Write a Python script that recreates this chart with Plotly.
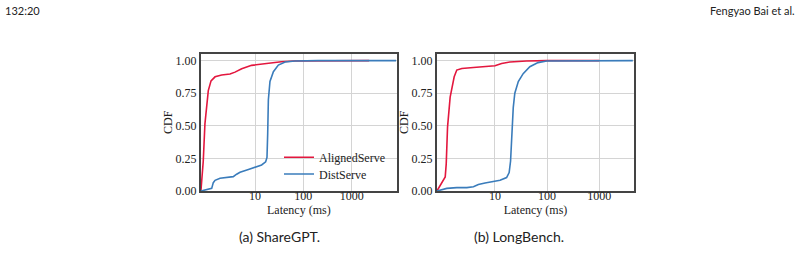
import plotly.graph_objects as go
import math

# ---- data ----
share_aligned_x = [0.76, 0.85, 0.92, 1.0, 1.08, 1.23, 1.49, 2.04, 3.04, 3.86, 5.3, 8.5, 16, 35, 67, 200, 2300]
share_aligned_y = [0, 0.23, 0.515, 0.67, 0.77, 0.845, 0.876, 0.89, 0.897, 0.912, 0.938, 0.964, 0.979, 0.992, 0.997, 0.999, 1.0]
share_dist_x = [0.76, 1.08, 1.27, 1.37, 1.49, 1.89, 2.8, 3.55, 4.17, 4.9, 7.3, 10, 13.7, 16.6, 17.7, 18.3, 18.9, 20.4, 24, 30.4, 42, 67, 200, 8300]
share_dist_y = [0, 0.01, 0.02, 0.064, 0.082, 0.098, 0.108, 0.11, 0.129, 0.144, 0.165, 0.18, 0.2, 0.224, 0.258, 0.44, 0.70, 0.84, 0.915, 0.966, 0.99, 0.998, 1.0, 1.0]
long_aligned_x = [0.77, 0.89, 1.0, 1.11, 1.16, 1.23, 1.38, 1.49, 1.65, 1.85, 2.31, 3.86, 6.45, 10, 13.4, 19.4, 40, 98, 1000]
long_aligned_y = [0, 0.04, 0.077, 0.108, 0.206, 0.49, 0.72, 0.786, 0.876, 0.928, 0.94, 0.948, 0.954, 0.961, 0.979, 0.99, 0.997, 1.0, 1.0]
long_dist_x = [0.77, 1.03, 1.19, 1.85, 2.88, 3.86, 4.8, 6.45, 9.3, 12.5, 16.7, 18.7, 19.9, 20.8, 22.4, 24, 28, 34.7, 46.6, 67, 98, 4400]
long_dist_y = [0, 0.013, 0.02, 0.026, 0.026, 0.033, 0.05, 0.062, 0.07, 0.082, 0.103, 0.142, 0.23, 0.44, 0.64, 0.75, 0.84, 0.90, 0.954, 0.985, 0.997, 1.0]

x_tickvals = [10, 100, 1000]
x_ticktext = ["10", "100", "1000"]
y_tickvals = [0, 0.25, 0.5, 0.75, 1.0]
series_names = ["AlignedServe", "DistServe"]
subcaptions = ["(a) ShareGPT.", "(b) LongBench."]
header_left = "132:20"
header_right = "Fengyao Bai et al."

RED = "#e3173e"
BLUE = "#3a7cbb"
W, H = 800, 256
SERIF = "Liberation Serif"
SANS = "Lato"

fig = go.Figure()

def add(x, y, color, name, xa, ya, show, legend="legend"):
    fig.add_trace(go.Scatter(x=x, y=y, mode="lines", name=name,
                             line=dict(color=color, width=1.6),
                             xaxis=xa, yaxis=ya, showlegend=show, legend=legend))

add(share_aligned_x, share_aligned_y, RED, series_names[0], "x", "y", True, "legend")
add(share_dist_x, share_dist_y, BLUE, series_names[1], "x", "y", True, "legend2")
add(long_aligned_x, long_aligned_y, RED, series_names[0], "x2", "y2", False)
add(long_dist_x, long_dist_y, BLUE, series_names[1], "x2", "y2", False)

def px_x(p):
    return p / W

def px_y(p):
    return (H - p) / H

ybot = 191.0
ytop = 53.5
yr = [0, 1.055]

axis_font = dict(family=SERIF, size=12, color="#222222")
common_x = dict(type="log", tickvals=x_tickvals, ticktext=x_ticktext,
                showgrid=True, gridcolor="#d4d4d4", gridwidth=1,
                showline=True, linecolor="#444444", linewidth=1.5, mirror=True,
                ticks="", zeroline=False, automargin=False, ticklabelstandoff=-7,
                tickfont=axis_font,
                title=dict(text="Latency (ms)", font=axis_font, standoff=0))
common_y = dict(range=yr, tickvals=y_tickvals, tickformat=".2f",
                showgrid=True, gridcolor="#d4d4d4", gridwidth=1,
                showline=True, linecolor="#444444", linewidth=1.5, mirror=True,
                ticks="", zeroline=False, automargin=False,
                tickfont=axis_font,
                title=dict(text="CDF", font=axis_font, standoff=0),
                domain=[px_y(ybot), px_y(ytop)])

legend_common = dict(xanchor="left", yanchor="middle", bgcolor="rgba(0,0,0,0)", borderwidth=0,
                     font=axis_font, itemwidth=30)

fig.update_layout(
    width=W, height=H, margin=dict(l=0, r=0, t=0, b=0, autoexpand=False),
    paper_bgcolor="white", plot_bgcolor="white",
    xaxis=dict(common_x, domain=[px_x(200.7), px_x(397)],
               range=[math.log10(0.752), math.log10(8670)], anchor="y"),
    yaxis=dict(common_y, anchor="x"),
    xaxis2=dict(common_x, domain=[px_x(436.7), px_x(634.3)],
                range=[math.log10(0.762), math.log10(4700)], anchor="y2"),
    yaxis2=dict(common_y, anchor="x2"),
    legend=dict(legend_common, x=px_x(279), y=px_y(157.3)),
    legend2=dict(legend_common, x=px_x(279), y=px_y(174)),
    showlegend=True,
)

fig.add_annotation(x=px_x(3), y=px_y(10), xref="paper", yref="paper", text=header_left,
                   showarrow=False, xanchor="left", yanchor="middle",
                   font=dict(family=SANS, size=11, color="#222222"))
fig.add_annotation(x=px_x(797), y=px_y(10), xref="paper", yref="paper", text=header_right,
                   showarrow=False, xanchor="right", yanchor="middle",
                   font=dict(family=SANS, size=11, color="#222222"))
fig.add_annotation(x=px_x(279), y=px_y(236), xref="paper", yref="paper", text=subcaptions[0],
                   showarrow=False, xanchor="center", yanchor="middle",
                   font=dict(family=SANS, size=14, color="#222222"))
fig.add_annotation(x=px_x(519), y=px_y(236), xref="paper", yref="paper", text=subcaptions[1],
                   showarrow=False, xanchor="center", yanchor="middle",
                   font=dict(family=SANS, size=14, color="#222222"))

fig.write_html("out.html")
